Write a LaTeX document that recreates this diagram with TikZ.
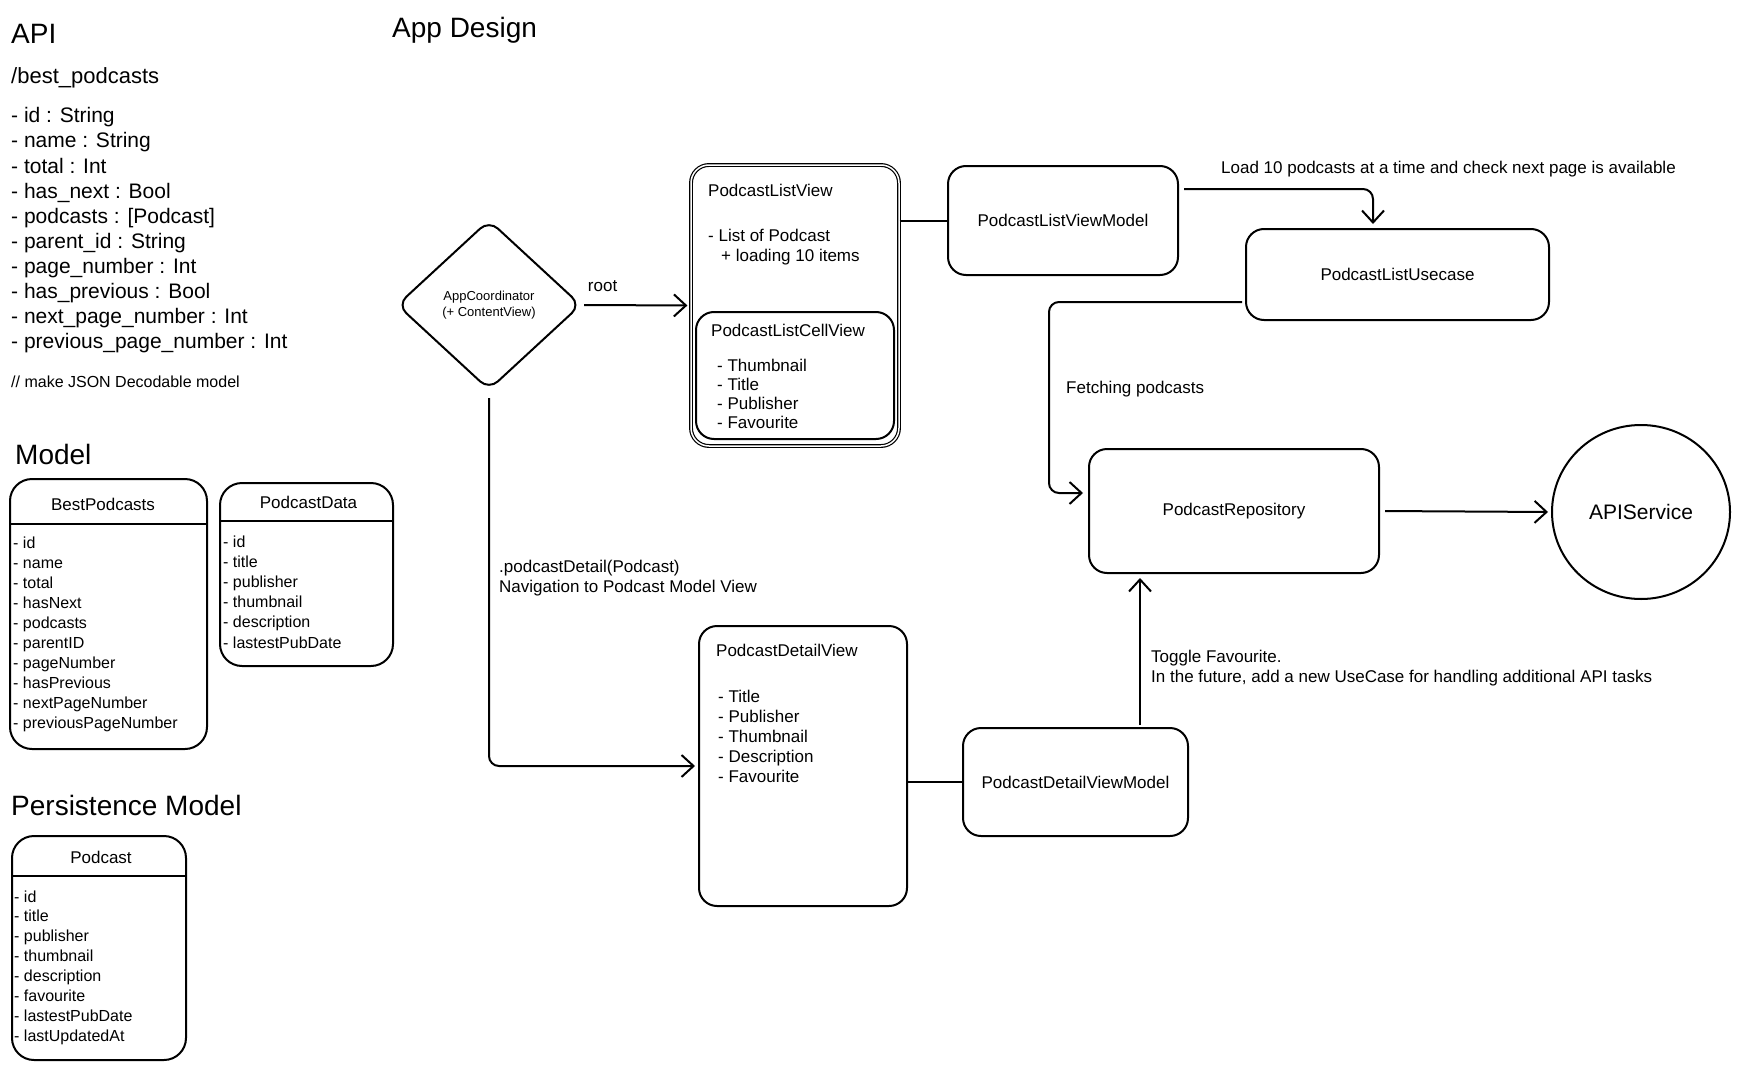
\documentclass[tikz,border=0pt]{standalone}
\usepackage{fontspec}
\setmainfont{Liberation Sans}
\usetikzlibrary{shapes.geometric,arrows.meta}
\begin{document}
\begin{tikzpicture}[x=1pt,y=-1pt,
  every node/.style={inner sep=0pt},
  box/.style={draw, line width=2pt, rounded corners=18pt, inner sep=0pt},
  mbox/.style={draw, line width=2pt, rounded corners=22pt},
  conn/.style={line width=2pt, rounded corners=10pt},
  arr/.style={conn, -{Straight Barb[length=12pt,width=22pt,line width=2pt]}},
  head/.style={font=\fontsize{28}{32}\selectfont, anchor=west},
  apit/.style={font=\fontsize{21}{25}\selectfont, anchor=west, text height=15pt, text depth=5pt},
  item/.style={font=\fontsize{16}{20}\selectfont, anchor=west, text height=12pt, text depth=4pt},
  mtitle/.style={font=\fontsize{17}{20}\selectfont},
  ftxt/.style={font=\fontsize{17}{20}\selectfont},
  fline/.style={font=\fontsize{17}{20}\selectfont, anchor=west, text height=16.5pt, text depth=4pt},
  lbl/.style={font=\fontsize{17}{20}\selectfont, anchor=west, align=left},
]
\fill[white] (0,0) rectangle (1740,1070);
\useasboundingbox (0,0) rectangle (1740,1070);

% ---------- API ----------
\node[head] (hapi) at (11,34) {API};
\node[head] (happ) at (392,30) {App Design};
\node[apit, font=\fontsize{22}{26}\selectfont] (hbest) at (11,79) {/best\_podcasts};
\foreach \t [count=\i from 0] in {{- id : String},{- name : String},{- total : Int},{- has\_next : Bool},{- podcasts : [Podcast]},{- parent\_id : String},{- page\_number : Int},{- has\_previous : Bool},{- next\_page\_number : Int},{- previous\_page\_number : Int}}
  \node[apit] (al\i) at (11,{118+25*\i}) {\t};
\node[item] (cmt) at (11,383) {// make JSON Decodable model};

% ---------- Model ----------
\node[head] (hmodel) at (15,454) {Model};
\node[mbox, minimum width=197pt, minimum height=270pt] (bp) at (108.5,614) {};
\draw[line width=2pt] ([yshift=-46pt]bp.north west) -- ([yshift=-46pt]bp.north east);
\node[mtitle] (bpt) at (103,504) {BestPodcasts};
\foreach \t [count=\i from 0] in {id,name,total,hasNext,podcasts,parentID,pageNumber,hasPrevious,nextPageNumber,previousPageNumber}
  \node[item] (bpi\i) at (13,{544+20.1*\i}) {- \t};

\node[mbox, minimum width=173pt, minimum height=183pt] (pd) at (306.5,574.5) {};
\draw[line width=2pt] ([yshift=-39pt]pd.north west) -- ([yshift=-39pt]pd.north east);
\node[mtitle] (pdt) at (308.5,502) {PodcastData};
\foreach \t [count=\i from 0] in {id,title,publisher,thumbnail,description,lastestPubDate}
  \node[item] (pdi\i) at (223,{543+20.2*\i}) {- \t};

% ---------- Persistence Model ----------
\node[head] (hpers) at (11,805) {Persistence Model};
\node[mbox, minimum width=174pt, minimum height=224pt] (pc) at (99,948) {};
\draw[line width=2pt] ([yshift=-41pt]pc.north west) -- ([yshift=-41pt]pc.north east);
\node[mtitle] (pct) at (101,857) {Podcast};
\foreach \t [count=\i from 0] in {id,title,publisher,thumbnail,description,favourite,lastestPubDate,lastUpdatedAt}
  \node[item] (pci\i) at (14,{898+19.9*\i}) {- \t};

% ---------- App design ----------
\node[draw, diamond, line width=2pt, rounded corners=12pt, minimum width=184pt, minimum height=170pt, align=center, font=\fontsize{13}{16}\selectfont] (ac) at (489,305) {AppCoordinator\\(+ ContentView)};

\node[box, double, double distance=1.5pt, line width=1.2pt, minimum width=208pt, minimum height=281pt] (plv) at (795,305.5) {};
\node[fline] (plvt) at (708,190) {PodcastListView};
\node[fline] (plv1) at (708,235) {- List of Podcast};
\node[fline] (plv2) at (721,255) {+ loading 10 items};
\node[box, minimum width=198pt, minimum height=127pt] (cell) at (795,375.5) {};
\node[fline] (cellt) at (711,330) {PodcastListCellView};
\foreach \t [count=\i from 0] in {Thumbnail,Title,Publisher,Favourite}
  \node[fline] (ci\i) at (717,{365+19*\i}) {- \t};

\node[box, ftxt, minimum width=230pt, minimum height=109pt] (plvm) at (1063,220.5) {PodcastListViewModel};
\node[box, ftxt, minimum width=303pt, minimum height=91pt] (uc) at (1397.5,274.5) {PodcastListUsecase};
\node[box, ftxt, minimum width=290pt, minimum height=124pt] (repo) at (1234,511) {PodcastRepository};
\node[draw, ellipse, line width=2pt, minimum width=178pt, minimum height=174pt, font=\fontsize{21}{25}\selectfont] (apis) at (1641,512) {APIService};

\node[box, minimum width=208pt, minimum height=280pt] (dv) at (803,766) {};
\node[fline] (dvt) at (716,650) {PodcastDetailView};
\foreach \t [count=\i from 0] in {Title,Publisher,Thumbnail,Description,Favourite}
  \node[fline] (di\i) at (718,{696+20*\i}) {- \t};
\node[box, ftxt, minimum width=225pt, minimum height=108pt] (dvm) at (1075.5,782) {PodcastDetailViewModel};

% ---------- connectors ----------
\draw[arr, shorten <=2pt, shorten >=3pt] (ac.east) -- node[lbl, pos=0.19, above=12pt] (lroot) {root} (plv.west);
\draw[conn] (plvm.west -| plv.east) -- (plvm.west);
\draw[arr, shorten <=5pt, shorten >=4pt] ([yshift=31.5pt]plvm.east) -| ([xshift=-24.5pt]uc.north);
\node[lbl] (lload) at (1221,169) {Load 10 podcasts at a time and check next page is available};
\draw[arr, shorten <=3pt, shorten >=5pt] ([yshift=-27.5pt]uc.west) -- ++(-196,0) |- ([yshift=18pt]repo.west);
\node[lbl] (lfetch) at (1066,389) {Fetching podcasts};
\draw[arr, shorten <=5pt, shorten >=3pt] (repo.east) -- (apis.west);
\draw[arr, shorten <=7pt, shorten >=3pt] (ac.south) |- (dv.west);
\node[lbl] (lnav) at (499,578) {.podcastDetail(Podcast)\\Navigation to Podcast Model View};
\draw[conn] (dvm.west -| dv.east) -- (dvm.west);
\coordinate (dvtop) at ([xshift=64.5pt]dvm.north);
\draw[arr, shorten <=2pt, shorten >=4pt] (dvtop) -- (dvtop |- repo.south);
\node[lbl] (ltog) at (1151,668) {Toggle Favourite.\\In the future, add a new UseCase for handling additional API tasks};
\end{tikzpicture}
\end{document}
